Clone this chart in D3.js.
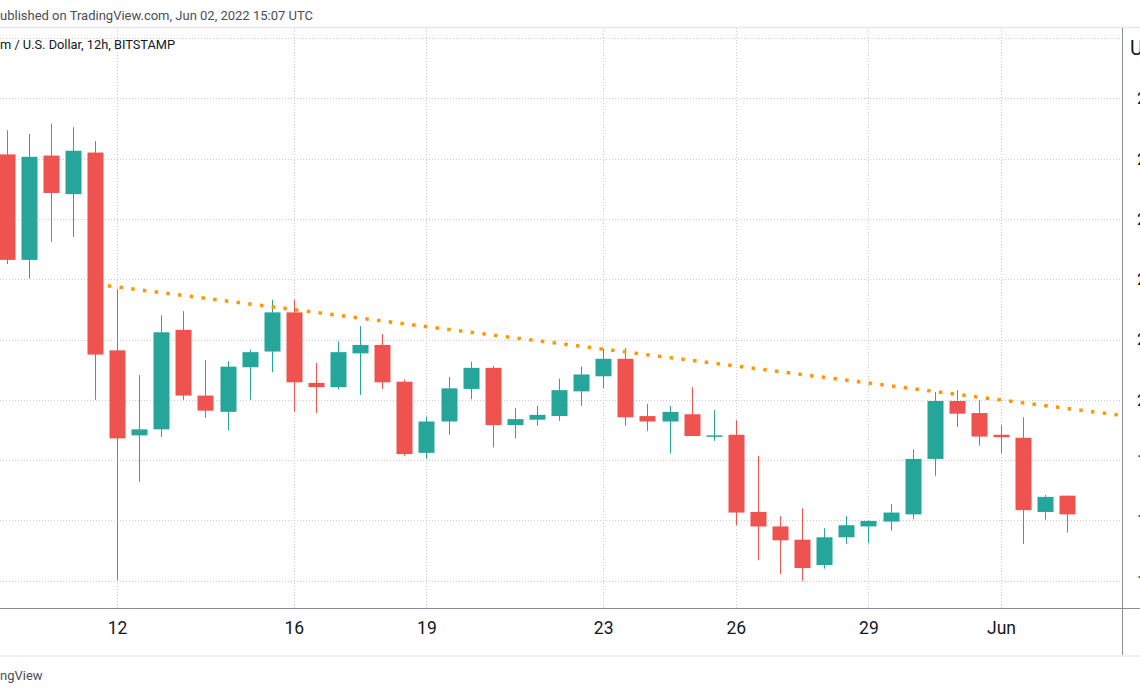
<!DOCTYPE html>
<html><head><meta charset="utf-8">
<script src="https://cdn.jsdelivr.net/npm/d3@7"></script>
<style>
html,body{margin:0;padding:0;background:#fff;overflow:hidden}
svg{display:block;font-family:Roboto,"Liberation Sans",sans-serif}
</style></head><body>
<svg id="c" width="1140" height="694"></svg>
<script>
// ---- data (ETH/USD, 12h, Bitstamp) ----
const times = ["2022-05-09T12:00Z","2022-05-10T00:00Z","2022-05-10T12:00Z","2022-05-11T00:00Z","2022-05-11T12:00Z",
"2022-05-12T00:00Z","2022-05-12T12:00Z","2022-05-13T00:00Z","2022-05-13T12:00Z","2022-05-14T00:00Z","2022-05-14T12:00Z",
"2022-05-15T00:00Z","2022-05-15T12:00Z","2022-05-16T00:00Z","2022-05-16T12:00Z","2022-05-17T00:00Z","2022-05-17T12:00Z",
"2022-05-18T00:00Z","2022-05-18T12:00Z","2022-05-19T00:00Z","2022-05-19T12:00Z","2022-05-20T00:00Z","2022-05-20T12:00Z",
"2022-05-21T00:00Z","2022-05-21T12:00Z","2022-05-22T00:00Z","2022-05-22T12:00Z","2022-05-23T00:00Z","2022-05-23T12:00Z",
"2022-05-24T00:00Z","2022-05-24T12:00Z","2022-05-25T00:00Z","2022-05-25T12:00Z","2022-05-26T00:00Z","2022-05-26T12:00Z",
"2022-05-27T00:00Z","2022-05-27T12:00Z","2022-05-28T00:00Z","2022-05-28T12:00Z","2022-05-29T00:00Z","2022-05-29T12:00Z",
"2022-05-30T00:00Z","2022-05-30T12:00Z","2022-05-31T00:00Z","2022-05-31T12:00Z","2022-06-01T00:00Z","2022-06-01T12:00Z",
"2022-06-02T00:00Z","2022-06-02T12:00Z"];
const opens  = [2407,2232,2405,2341,2410,2082,1941,1951,2116,2007,1980,2054,2080,2145,2028,2021,2077,2091,2030,1912,1964,2018,2053,1958,1967,1973,2014,2039,2068,1973,1964,1976,1940,1942,1814,1790,1768,1726,1772,1790,1798,1810,1902,1998,1978,1942,1937,1814,1841];
const highs  = [2447,2441,2458,2452,2429,2184,2041,2140,2147,2066,2064,2083,2166,2166,2061,2097,2122,2109,2034,1972,2038,2063,2056,1986,1990,2035,2055,2085,2086,1993,1990,2021,1983,1966,1907,1807,1820,1787,1807,1800,1827,1918,2013,2016,1999,1958,1971,1842,1841];
const lows   = [2225,2201,2262,2270,2000,1701,1864,1938,2000,1970,1949,2000,2046,1980,1978,2017,2008,2018,1907,1902,1942,2001,1921,1936,1957,1965,1990,2019,1957,1948,1911,1940,1932,1792,1734,1711,1700,1720,1761,1762,1783,1802,1874,1955,1924,1911,1761,1801,1780];
const closes = [2232,2403,2343,2413,2075,1936,1951,2112,2007,1982,2055,2079,2145,2029,2021,2079,2091,2029,1910,1964,2019,2053,1958,1968,1975,2016,2042,2068,1971,1964,1980,1940,1941,1813,1790,1767,1721,1772,1792,1799,1813,1902,1998,1977,1939,1938,1817,1839,1810];

const priceTicks = [1700,1800,1900,2000,2100,2200,2300,2400,2500,2600];
const priceTickLabels = ["1700.00","1800.00","1900.00","2000.00","2100.00","2200.00","2300.00","2400.00","2500.00","2600.00"];
const dateTicks = ["2022-05-12T00:00Z","2022-05-16T00:00Z","2022-05-19T00:00Z","2022-05-23T00:00Z","2022-05-26T00:00Z","2022-05-29T00:00Z","2022-06-01T00:00Z"];
const dateTickLabels = ["12","16","19","23","26","29","Jun"];

const trendTimes = ["2022-05-11T19:00Z","2022-06-03T18:00Z"];
const trendPrices = [2189, 1974];

const headerText = "Published on TradingView.com, Jun 02, 2022 15:07 UTC";
const titleText = "Ethereum / U.S. Dollar, 12h, BITSTAMP";
const logoText = "TradingView";
const currencyText = "USD";

// ---- layout ----
const W = 1140, H = 694;
const P = {left: 0, right: 1122, top: 28, bottom: 608, footer: 655};
const UP = "#26a69a", DOWN = "#ef5350";

const svg = d3.select("#c");
const x = d3.scaleUtc()
  .domain([new Date("2022-05-12T00:00Z"), new Date("2022-06-01T00:00Z")])
  .range([117, 1001]);
const y = d3.scaleLinear().domain([1700, 2500]).range([580.7, 98.3]);

const candles = times.map((t, i) => ({t: new Date(t), o: opens[i], h: highs[i], l: lows[i], c: closes[i]}));

svg.append("defs").append("clipPath").attr("id", "plotclip")
  .append("rect").attr("x", P.left).attr("y", P.top).attr("width", P.right - P.left).attr("height", P.bottom - P.top);

// grid
const grid = svg.append("g").attr("clip-path", "url(#plotclip)");
grid.selectAll("line.h").data(priceTicks).join("line")
  .attr("x1", P.left).attr("x2", P.right)
  .attr("y1", d => Math.round(y(d)) + 0.5).attr("y2", d => Math.round(y(d)) + 0.5)
  .attr("stroke", "#c9cbd1").attr("stroke-width", 1).attr("stroke-dasharray", "1,2");
grid.selectAll("line.v").data(dateTicks).join("line")
  .attr("x1", d => Math.round(x(new Date(d))) + 0.5).attr("x2", d => Math.round(x(new Date(d))) + 0.5)
  .attr("y1", P.top).attr("y2", P.bottom)
  .attr("stroke", "#c9cbd1").attr("stroke-width", 1).attr("stroke-dasharray", "1,2");

// candles
const cg = svg.append("g").attr("clip-path", "url(#plotclip)");
const bw = 16;
const g = cg.selectAll("g.candle").data(candles).join("g");
g.append("line")
  .attr("x1", d => Math.round(x(d.t)) + 0.5).attr("x2", d => Math.round(x(d.t)) + 0.5)
  .attr("y1", d => y(d.h)).attr("y2", d => y(d.l))
  .attr("stroke", d => d.c >= d.o ? UP : DOWN).attr("stroke-width", 1);
g.append("rect")
  .attr("x", d => Math.round(x(d.t)) - bw / 2 + 0.5)
  .attr("width", bw)
  .attr("y", d => y(Math.max(d.o, d.c)))
  .attr("height", d => Math.max(1.5, Math.abs(y(d.o) - y(d.c))))
  .attr("fill", d => d.c >= d.o ? UP : DOWN);

// trend line
const trend = trendTimes.map((t, i) => [x(new Date(t)), y(trendPrices[i])]);
cg.append("path").attr("d", d3.line()(trend))
  .attr("fill", "none").attr("stroke", "#ff9800").attr("stroke-width", 3.5)
  .attr("stroke-dasharray", "3.5,8.3");

// frame lines
svg.append("line").attr("x1", 0).attr("x2", W).attr("y1", 27.5).attr("y2", 27.5).attr("stroke", "#e6e8ee").attr("stroke-width", 1.5);
svg.append("line").attr("x1", 0).attr("x2", W).attr("y1", P.bottom + 0.5).attr("y2", P.bottom + 0.5).attr("stroke", "#8a8d96").attr("stroke-width", 1);
svg.append("line").attr("x1", P.right + 0.5).attr("x2", P.right + 0.5).attr("y1", P.top).attr("y2", P.footer).attr("stroke", "#8a8d96").attr("stroke-width", 1);
svg.append("line").attr("x1", 0).attr("x2", W).attr("y1", P.footer + 1).attr("y2", P.footer + 1).attr("stroke", "#eef0f4").attr("stroke-width", 2);

// x axis
const xAxis = d3.axisBottom(x)
  .tickValues(dateTicks.map(d => new Date(d)))
  .tickFormat((d, i) => dateTickLabels[i])
  .tickSize(0).tickPadding(14);
const xa = svg.append("g").attr("transform", `translate(0,${P.bottom})`).call(xAxis);
xa.select(".domain").remove();
xa.selectAll("text").attr("font-size", 17.5).attr("fill", "#131722").attr("font-family", "Roboto, 'Liberation Sans', sans-serif");

// y axis (labels run past the right edge, as in the reference)
const yAxis = d3.axisRight(y)
  .tickValues(priceTicks.slice(0, 9))
  .tickFormat((d, i) => priceTickLabels[i])
  .tickSize(0).tickPadding(15);
const ya = svg.append("g").attr("transform", `translate(${P.right},0)`).call(yAxis);
ya.select(".domain").remove();
ya.selectAll("text").attr("font-size", 17).attr("fill", "#131722").attr("font-family", "Roboto, 'Liberation Sans', sans-serif");

svg.append("text").attr("x", 1130).attr("y", 55).attr("font-size", 20).attr("fill", "#131722").text(currencyText);

// clipped texts: shift so that the visible part starts at x=0
function clippedText(full, hiddenPrefix, yy, size, color) {
  const t = svg.append("text").attr("y", yy).attr("font-size", size).attr("fill", color).text(hiddenPrefix);
  const w = t.node().getComputedTextLength();
  t.text(full).attr("x", -w);
  return t;
}
clippedText(headerText, "P", 20, 13, "#4a4d57");
clippedText(titleText, "Ethereu", 49, 12.8, "#131722");
clippedText(logoText, "Tradi", 680, 13, "#4a4d57");
</script>
</body></html>
